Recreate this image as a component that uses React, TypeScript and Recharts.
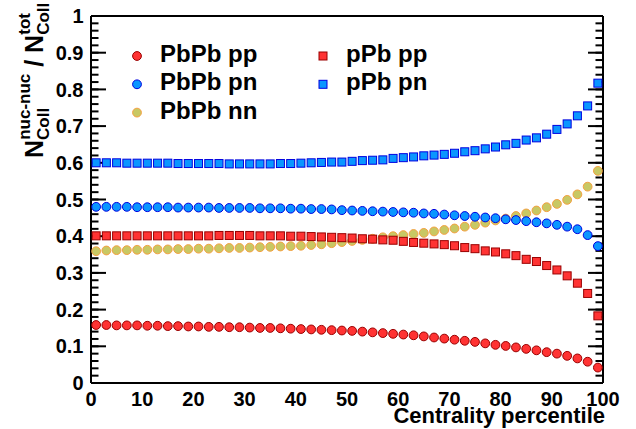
import { ScatterChart, Scatter, XAxis, YAxis } from 'recharts';

// centrality bin centres (percent)
const centrality = [1, 3, 5, 7, 9, 11, 13, 15, 17, 19, 21, 23, 25, 27, 29, 31, 33, 35, 37, 39, 41, 43, 45, 47, 49,
  51, 53, 55, 57, 59, 61, 63, 65, 67, 69, 71, 73, 75, 77, 79, 81, 83, 85, 87, 89, 91, 93, 95, 97, 99];

const pbpbPP = [0.158, 0.158, 0.157, 0.157, 0.157, 0.156, 0.156, 0.155, 0.155, 0.154, 0.154, 0.153, 0.153, 0.152, 0.152, 0.151,
  0.150, 0.150, 0.149, 0.148, 0.147, 0.146, 0.145, 0.144, 0.143, 0.142, 0.140, 0.138, 0.136, 0.134, 0.132, 0.130, 0.127, 0.124,
  0.121, 0.118, 0.115, 0.112, 0.108, 0.104, 0.101, 0.097, 0.093, 0.089, 0.084, 0.080, 0.074, 0.067, 0.058, 0.042];

const pbpbPN = [0.480, 0.480, 0.480, 0.480, 0.479, 0.479, 0.479, 0.479, 0.478, 0.478, 0.478, 0.478, 0.477, 0.477, 0.477, 0.477,
  0.476, 0.476, 0.476, 0.475, 0.475, 0.474, 0.474, 0.473, 0.471, 0.470, 0.469, 0.468, 0.467, 0.466, 0.465, 0.464, 0.462, 0.461,
  0.459, 0.457, 0.455, 0.453, 0.451, 0.449, 0.446, 0.444, 0.441, 0.438, 0.435, 0.431, 0.426, 0.419, 0.403, 0.373];

const pbpbNN = [0.359, 0.361, 0.362, 0.362, 0.363, 0.363, 0.364, 0.364, 0.365, 0.365, 0.366, 0.366, 0.367, 0.368, 0.368, 0.369,
  0.370, 0.371, 0.372, 0.373, 0.374, 0.376, 0.378, 0.381, 0.384, 0.387, 0.390, 0.393, 0.397, 0.400, 0.403, 0.406, 0.409, 0.413,
  0.417, 0.421, 0.426, 0.431, 0.437, 0.443, 0.448, 0.455, 0.462, 0.470, 0.479, 0.488, 0.499, 0.514, 0.535, 0.578];

const ppbPP = [0.401, 0.401, 0.401, 0.401, 0.401, 0.401, 0.401, 0.401, 0.401, 0.401, 0.401, 0.401, 0.402, 0.402, 0.402, 0.402,
  0.401, 0.401, 0.401, 0.400, 0.400, 0.399, 0.398, 0.397, 0.396, 0.395, 0.393, 0.392, 0.390, 0.389, 0.386, 0.383, 0.381, 0.379,
  0.377, 0.374, 0.369, 0.366, 0.360, 0.357, 0.352, 0.347, 0.337, 0.331, 0.320, 0.308, 0.292, 0.272, 0.244, 0.183];

const ppbPN = [0.600, 0.600, 0.600, 0.599, 0.599, 0.599, 0.599, 0.599, 0.598, 0.598, 0.598, 0.598, 0.598, 0.597, 0.597, 0.597,
  0.597, 0.597, 0.598, 0.598, 0.599, 0.600, 0.601, 0.602, 0.602, 0.604, 0.606, 0.607, 0.608, 0.612, 0.614, 0.616, 0.619, 0.621,
  0.623, 0.626, 0.630, 0.633, 0.638, 0.643, 0.649, 0.653, 0.662, 0.668, 0.678, 0.691, 0.706, 0.728, 0.755, 0.817];

const xTicks = [0, 10, 20, 30, 40, 50, 60, 70, 80, 90, 100];
const yTicks = [0, 0.1, 0.2, 0.3, 0.4, 0.5, 0.6, 0.7, 0.8, 0.9, 1];
const xMinor = Array.from({ length: 51 }, (_, i) => i * 2);
const yMinor = Array.from({ length: 51 }, (_, i) => i / 50);

const RED = { fill: '#ff3333', stroke: '#990000' };
const BLUE = { fill: '#0a96ff', stroke: '#0000e0' };
const KHAKI = { fill: '#c8c864', stroke: '#f5a040' };

type Series = { name: string; values: number[]; marker: 'circle' | 'square'; fill: string; stroke: string };

// drawing order: khaki first so the others sit on top
const series: Series[] = [
  { name: 'PbPb nn', values: pbpbNN, marker: 'circle', ...KHAKI },
  { name: 'PbPb pn', values: pbpbPN, marker: 'circle', ...BLUE },
  { name: 'PbPb pp', values: pbpbPP, marker: 'circle', ...RED },
  { name: 'pPb pp', values: ppbPP, marker: 'square', ...RED },
  { name: 'pPb pn', values: ppbPN, marker: 'square', ...BLUE },
];

const legendCols = [['PbPb pp', 'PbPb pn', 'PbPb nn'], ['pPb pp', 'pPb pn']];

const FONT = '"Liberation Sans", Arial, Helvetica, sans-serif';
const tickFont = { fontSize: 20, fontWeight: 700, fill: '#000', fontFamily: FONT };
const frame = { stroke: '#000', strokeWidth: 2 };
const noLabel = () => <g />;
const THIN = 0.01; // tick-only axes take (almost) no room

function marker(s: Series, cx: number, cy: number, key?: string) {
  if (s.marker === 'circle') {
    return <circle key={key} cx={cx} cy={cy} r={4.4} fill={s.fill} stroke={s.stroke} strokeWidth={1} />;
  }
  return <rect key={key} x={cx - 4} y={cy - 4} width={8} height={8} fill={s.fill} stroke={s.stroke} strokeWidth={1} />;
}

function Overlay() {
  const byName = (n: string) => series.find(s => s.name === n)!;
  return (
    <svg width={636} height={429} style={{ position: 'absolute', left: 0, top: 0, pointerEvents: 'none' }}>
      {legendCols.map((col, ci) =>
        col.map((name, ri) => {
          const s = byName(name);
          const mx = ci === 0 ? 137 : 323;
          const base = 62 + ri * 28.3;
          return (
            <g key={name}>
              {marker(s, mx, base - 6)}
              <text x={mx + 23} y={base} fontSize={24} fontWeight={700} fontFamily={FONT} fill="#000">{name}</text>
            </g>
          );
        })
      )}
      <text x={605} y={423} textAnchor="end" fontSize={22} fontWeight={700} fontFamily={FONT} fill="#000">
        Centrality percentile
      </text>
      <text transform="translate(43,158) rotate(-90)" fontWeight={700} fontFamily={FONT} fill="#000">
        <tspan fontSize={25}>N</tspan>
        <tspan fontSize={17} dy={6}>Coll</tspan>
        <tspan fontSize={17} dx={-32} dy={-19}>nuc-nuc</tspan>
        <tspan fontSize={25} dy={13}> / </tspan>
        <tspan fontSize={25}>N</tspan>
        <tspan fontSize={17} dy={6}>Coll</tspan>
        <tspan fontSize={17} dx={-32} dy={-19}>tot</tspan>
      </text>
    </svg>
  );
}

export default function App() {
  return (
    <div style={{ position: 'absolute', left: 0, top: 0, width: 636, height: 429, background: '#fff' }}>
      <ScatterChart width={636} height={429} margin={{ top: 16, right: 33, bottom: 0, left: 0 }}>
        {/* labelled axes */}
        <XAxis xAxisId="x" type="number" dataKey="x" domain={[0, 100]} ticks={xTicks} interval={0} height={46}
          allowDataOverflow axisLine={frame} tickLine={false} tickSize={1} tickMargin={8} tick={tickFont} />
        <YAxis yAxisId="y" type="number" dataKey="y" domain={[0, 1]} ticks={yTicks} interval={0} width={91}
          allowDataOverflow axisLine={frame} tickLine={false} tickSize={1} tickMargin={6.5} tick={tickFont}
          tickFormatter={(v: number) => String(v)} />
        {/* inward ticks on all four sides */}
        <XAxis xAxisId="xb" mirror type="number" domain={[0, 100]} ticks={xTicks} interval={0} height={THIN}
          allowDataOverflow axisLine={false} tickLine={frame} tickSize={11} tick={noLabel} />
        <XAxis xAxisId="xbm" mirror type="number" domain={[0, 100]} ticks={xMinor} interval={0} height={THIN}
          allowDataOverflow axisLine={false} tickLine={frame} tickSize={5.5} tick={noLabel} />
        <XAxis xAxisId="xt" mirror orientation="top" type="number" domain={[0, 100]} ticks={xTicks} interval={0}
          height={THIN} allowDataOverflow axisLine={frame} tickLine={frame} tickSize={11} tick={noLabel} />
        <XAxis xAxisId="xtm" mirror orientation="top" type="number" domain={[0, 100]} ticks={xMinor} interval={0}
          height={THIN} allowDataOverflow axisLine={false} tickLine={frame} tickSize={5.5} tick={noLabel} />
        <YAxis yAxisId="yl" mirror type="number" domain={[0, 1]} ticks={yTicks} interval={0} width={THIN}
          allowDataOverflow axisLine={false} tickLine={frame} tickSize={15} tick={noLabel} />
        <YAxis yAxisId="ylm" mirror type="number" domain={[0, 1]} ticks={yMinor} interval={0} width={THIN}
          allowDataOverflow axisLine={false} tickLine={frame} tickSize={7.5} tick={noLabel} />
        <YAxis yAxisId="yr" mirror orientation="right" type="number" domain={[0, 1]} ticks={yTicks} interval={0}
          width={THIN} allowDataOverflow axisLine={frame} tickLine={frame} tickSize={15} tick={noLabel} />
        <YAxis yAxisId="yrm" mirror orientation="right" type="number" domain={[0, 1]} ticks={yMinor} interval={0}
          width={THIN} allowDataOverflow axisLine={false} tickLine={frame} tickSize={7.5} tick={noLabel} />
        {series.map(s => (
          <Scatter key={s.name} name={s.name} xAxisId="x" yAxisId="y" isAnimationActive={false}
            data={centrality.map((c, i) => ({ x: c, y: s.values[i] }))}
            shape={(p: any) => marker(s, p.cx, p.cy)} />
        ))}
      </ScatterChart>
      <Overlay />
    </div>
  );
}
